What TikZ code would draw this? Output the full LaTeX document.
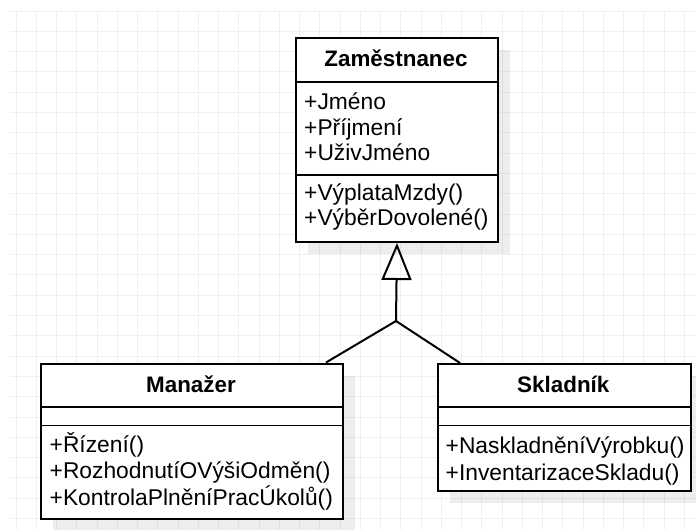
\documentclass[tikz,border=0pt]{standalone}
\usepackage{fontspec}
\setmainfont{Liberation Sans}
\usetikzlibrary{arrows.meta}
\begin{document}
\begin{tikzpicture}[x=1pt,y=-1pt,
  gridline/.style={draw=black!6, line width=1pt},
  classbox/.style={draw=black, line width=2pt, fill=white, inner sep=0pt, anchor=north west},
  shadowbox/.style={fill=black, fill opacity=0.07, draw=none, inner sep=0pt, anchor=north west},
  divider/.style={draw=black, line width=1.8pt},
  classname/.style={font=\fontsize{22.4}{27}\selectfont\bfseries, anchor=base, inner sep=0pt},
  member/.style={font=\fontsize{22.8}{27}\selectfont, anchor=base west, inner sep=0pt},
  link/.style={draw=black, line width=2pt},
  inherit/.style={link, -{Triangle[open, length=37pt, width=30pt, line width=2pt]}}
]
\useasboundingbox (0,0) rectangle (696,530);
\fill[white] (0,0) rectangle (696,530);

% background grid
\foreach \i in {0,...,33}
  \draw[gridline] ({16+20.25*\i},11) -- ({16+20.25*\i},530);
\foreach \j in {0,...,25}
  \draw[gridline] (10,{11+20.3*\j}) -- (696,{11+20.3*\j});

% drop shadows
\node[shadowbox, minimum width=202pt, minimum height=204pt] (empshadow) at (308,50) {};
\node[shadowbox, minimum width=302pt, minimum height=155pt] (mgrshadow) at (53,375.5) {};
\node[shadowbox, minimum width=253.3pt, minimum height=127pt] (skladshadow) at (449.7,376) {};

% class Zaměstnanec
\node[classbox, minimum width=202pt, minimum height=204pt] (emp) at (295,37) {};
\draw[divider] (295,82) -- (497,82);
\draw[divider] (295,175) -- (497,175);
\node[classname] (empname) at (396,66.5) {Zaměstnanec};
\node[member] (empa1) at (304,109.5) {+Jméno};
\node[member] (empa2) at (304,135) {+Příjmení};
\node[member] (empa3) at (304,160.5) {+UživJméno};
\node[member] (empm1) at (304,200) {+VýplataMzdy()};
\node[member] (empm2) at (304,225.5) {+VýběrDovolené()};

% class Manažer
\node[classbox, minimum width=302pt, minimum height=155pt] (mgr) at (40,362.5) {};
\draw[divider] (40,407) -- (342,407);
\draw[divider] (40,425.5) -- (342,425.5);
\node[classname] (mgrname) at (191,392) {Manažer};
\node[member] (mgrm1) at (49.5,452) {+Řízení()};
\node[member] (mgrm2) at (49.5,478.7) {+RozhodnutíOVýšiOdměn()};
\node[member] (mgrm3) at (49.5,505.3) {+KontrolaPlněníPracÚkolů()};

% class Skladník
\node[classbox, minimum width=253.3pt, minimum height=127pt] (sklad) at (436.7,363) {};
\draw[divider] (436.7,407) -- (690,407);
\draw[divider] (436.7,425.5) -- (690,425.5);
\node[classname] (skladname) at (563.3,392.3) {Skladník};
\node[member] (skladm1) at (445.5,453.3) {+NaskladněníVýrobku()};
\node[member] (skladm2) at (445.5,480) {+InventarizaceSkladu()};

% generalisation
\coordinate (junction) at (396,321);
\draw[inherit] (junction) -- (emp.south);
\draw[link] (junction) -- ([xshift=134pt]mgr.north);
\draw[link] (junction) -- ([xshift=-104.3pt]sklad.north);
\end{tikzpicture}
\end{document}
